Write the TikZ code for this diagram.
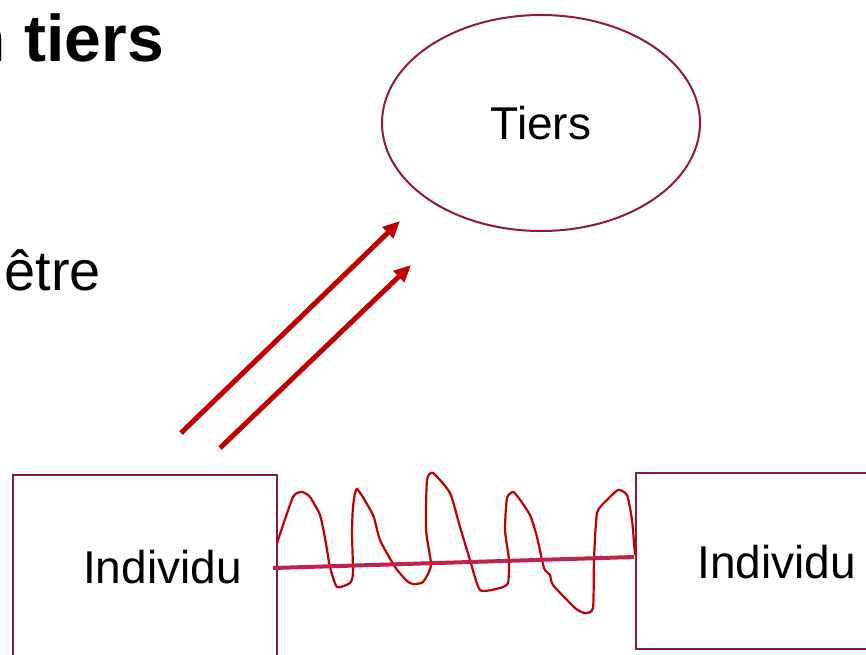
\documentclass[tikz,border=0pt]{standalone}
\usepackage{fontspec}
\setmainfont{Liberation Sans}
\usetikzlibrary{arrows.meta,shapes.geometric}
\definecolor{boxred}{HTML}{8E1A35}
\definecolor{arrred}{HTML}{C00000}
\definecolor{linkred}{HTML}{C0224C}

\begin{document}
\begin{tikzpicture}[x=1pt,y=-1pt,-{Triangle[length=17pt,width=15pt]},
    box node/.style={rectangle,draw=boxred,line width=2pt,inner sep=0pt},
    tiers node/.style={ellipse,draw=boxred,line width=2pt,minimum width=318pt,minimum height=216pt,inner sep=0pt},
    word/.style={inner sep=0pt,font=\fontsize{46}{55}\selectfont},
    big word/.style={inner sep=0pt,font=\fontsize{56}{67}\selectfont},
    title/.style={inner sep=0pt,font=\fontsize{66}{79}\bfseries\selectfont}]
	\useasboundingbox (0,0) rectangle (866,654);

	\node[title, anchor=base east] (titre) at (164,61) {n tiers};
	\node[big word, anchor=base east] (etre) at (101,290) {être};

	\node[tiers node, word] (tiers) at (541,123) {Tiers};
	\node[box node, minimum width=264pt, minimum height=194pt] (ind1) at (145,572) {};
	\node[box node, minimum width=236pt, minimum height=176pt] (ind2) at (754,561) {};
	\node[word, anchor=base west] (lab1) at (83,583) {Individu};
	\node[word, anchor=base west] (lab2) at (697,578) {Individu};

	\coordinate (a1) at (181,433);
	\coordinate (b1) at (400,221);
	\coordinate (a2) at (220,448);
	\coordinate (b2) at (411,265);
	\coordinate (l1) at (273,568);
	\coordinate (l2) at (634,557);

	\path[arrred, line width=5pt]
	(a1) edge (b1)
	(a2) edge (b2);

	% scribble between the two boxes
	\draw[-, arrred, line width=2.2pt, line join=round] plot[smooth, tension=0.35] coordinates {
	(277,543) (293,497) (302,492) (310,497) (320,515) (325,538) (330,567) (337,587)
	(350,583) (353,573) (352,533) (353,507) (357,489) (373,515) (380,540) (395,567)
	(407,581) (413,584) (423,582) (431,565) (426,530) (427,480) (433,473) (450,493)
	(460,527) (470,560) (480,590) (500,588) (508,583) (509,560) (505,530) (507,498)
	(513,492) (518,497) (530,515) (537,537) (544,568) (550,575) (553,585) (575,608)
	(585,613) (593,608) (594,560) (597,513) (607,500) (618,490) (627,495) (632,520)
	(635,555)};

	\draw[-, linkred, line width=4pt] (l1) -- (l2);

\end{tikzpicture}
\end{document}
